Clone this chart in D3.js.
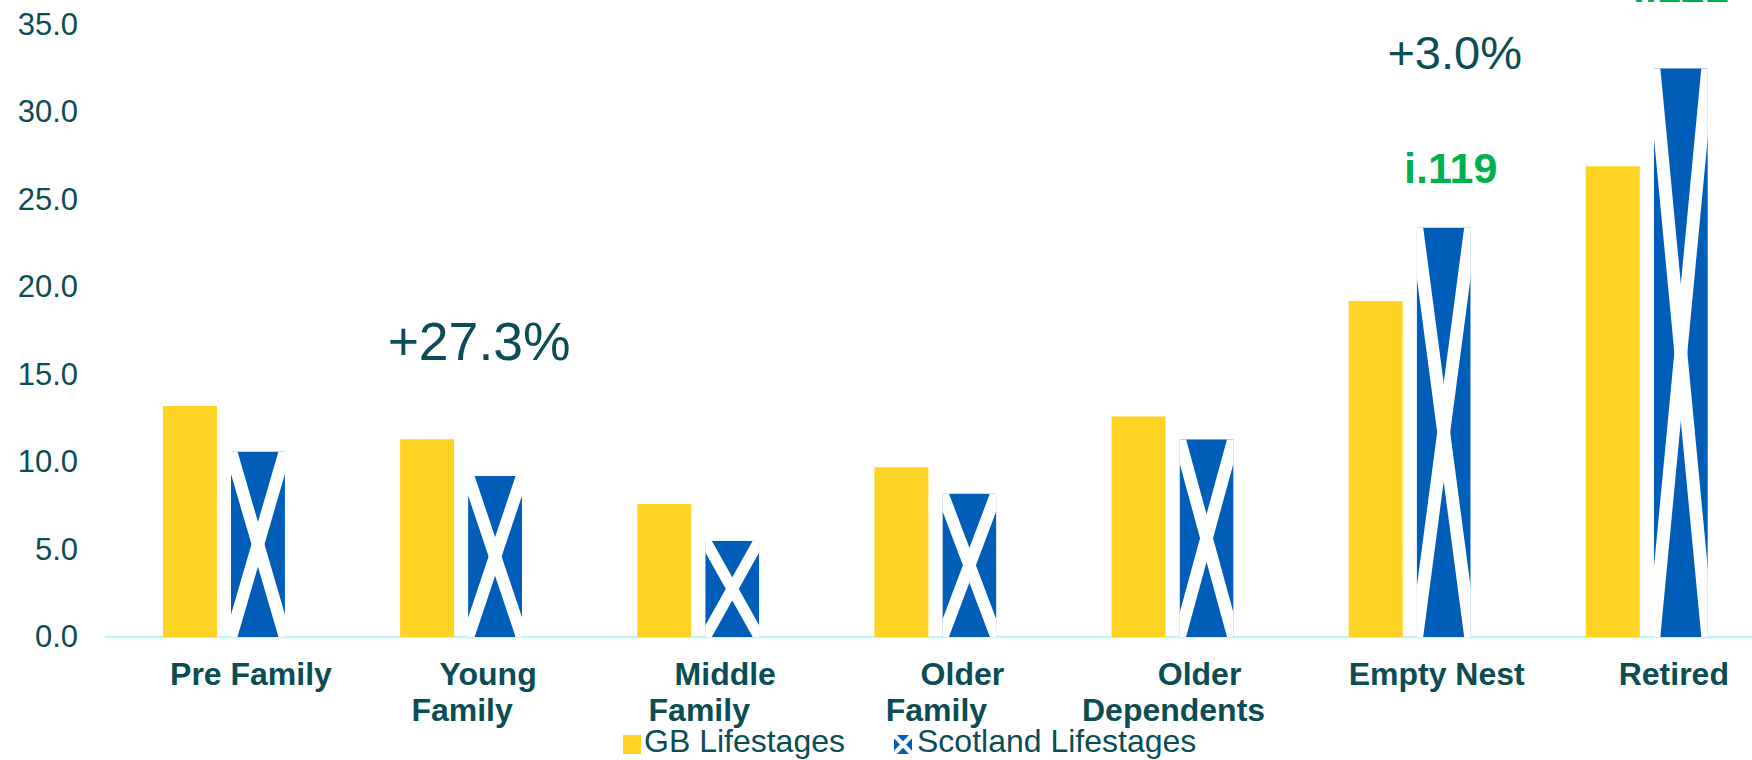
<!DOCTYPE html>
<html>
<head>
<meta charset="utf-8">
<script src="https://cdn.jsdelivr.net/npm/d3@7"></script>
<style>
  body { margin: 0; background: #fff; }
  text { font-family: Arial, "Liberation Sans", sans-serif; }
</style>
</head>
<body>
<div id="chart"></div>
<script>
// lifestage categories, label lines for the x axis
var categories = ["Pre Family", "Young Family", "Middle Family", "Older Family", "Older Dependents", "Empty Nest", "Retired"];
var categoryLines = [["Pre Family"], ["Young", "Family"], ["Middle", "Family"], ["Older", "Family"], ["Older", "Dependents"], ["Empty Nest"], ["Retired"]];
var seriesNames = ["GB Lifestages", "Scotland Lifestages"];
var gbValues = [13.2, 11.3, 7.6, 9.7, 12.6, 19.2, 26.9];
var scotlandValues = [10.6, 9.2, 5.5, 8.2, 11.3, 23.4, 32.5];
var yTicks = [0, 5, 10, 15, 20, 25, 30, 35];
var changeNotes = [{cat: "Young Family", text: "+27.3%"}, {cat: "Empty Nest", text: "+3.0%"}];
var indexNotes = [{cat: "Empty Nest", text: "i.119"}, {cat: "Retired", text: "i.121"}];

var W = 1752, H = 760;
var teal = "#0b4d54", yellow = "#ffd324", blue = "#005eb8", green = "#00b050";

var svg = d3.select("#chart").append("svg").attr("width", W).attr("height", H);
var defs = svg.append("defs");

var x = d3.scaleBand().domain(categories).range([105.4, 1765.4]).paddingInner(0).paddingOuter(0);
var x1 = d3.scaleBand().domain(seriesNames)
    .range([x.bandwidth() / 2 - 61, x.bandwidth() / 2 + 61]).paddingInner(0.206);
var y = d3.scaleLinear().domain([0, 35]).range([637, 24.5]);

// y axis labels only
var yAxis = svg.append("g").attr("transform", "translate(78,0)")
    .call(d3.axisLeft(y).tickValues(yTicks).tickSize(0).tickPadding(0).tickFormat(d3.format(".1f")));
yAxis.select(".domain").remove();
yAxis.selectAll("text").attr("fill", teal).style("font-size", "31px")
    .style("font-family", "Arial, 'Liberation Sans', sans-serif");

// baseline
svg.append("line").attr("x1", 105).attr("x2", W).attr("y1", y(0)).attr("y2", y(0))
    .attr("stroke", "#c4f4f8").attr("stroke-width", 2.5);

// GB bars
svg.append("g").selectAll("rect").data(gbValues).join("rect")
    .attr("x", function(d, i) { return x(categories[i]) + x1(seriesNames[0]); })
    .attr("y", function(d) { return y(d); })
    .attr("width", x1.bandwidth())
    .attr("height", function(d) { return y(0) - y(d); })
    .attr("fill", yellow);

// saltire drawing: blue box with white diagonals, clipped to the box
function saltire(g, x0, y0, w, h, half, id) {
    defs.append("clipPath").attr("id", id).append("rect")
        .attr("x", x0).attr("y", y0).attr("width", w).attr("height", h);
    var s = g.append("g").attr("clip-path", "url(#" + id + ")");
    s.append("rect").attr("x", x0).attr("y", y0).attr("width", w).attr("height", h).attr("fill", blue);
    var x1p = x0 + w, y1p = y0 + h;
    s.append("polygon").attr("fill", "#fff")
        .attr("points", [[x0 - half, y0], [x0 + half, y0], [x1p + half, y1p], [x1p - half, y1p]].join(" "));
    s.append("polygon").attr("fill", "#fff")
        .attr("points", [[x1p - half, y0], [x1p + half, y0], [x0 + half, y1p], [x0 - half, y1p]].join(" "));
}

var scotG = svg.append("g");
scotlandValues.forEach(function(d, i) {
    saltire(scotG, x(categories[i]) + x1(seriesNames[1]), y(d), x1.bandwidth(), y(0) - y(d), 6.5, "clip" + i);
});

// x axis labels
var labels = svg.append("g");
categoryLines.forEach(function(lines, i) {
    var cx = x(categories[i]) + x.bandwidth() / 2;
    lines.forEach(function(line, j) {
        labels.append("text")
            .attr("x", cx + (j === 0 ? 27 : 1))
            .attr("y", 685 + j * 36)
            .attr("text-anchor", "middle")
            .attr("fill", teal)
            .style("font-size", "32px")
            .style("font-weight", "bold")
            .text(line);
    });
});

// change annotations
svg.append("text").attr("x", x(changeNotes[0].cat) + x.bandwidth() / 2 + 18).attr("y", 360)
    .attr("text-anchor", "middle").attr("fill", teal).style("font-size", "53.5px").text(changeNotes[0].text);
svg.append("text").attr("x", x(changeNotes[1].cat) + x.bandwidth() / 2 + 45).attr("y", 69)
    .attr("text-anchor", "middle").attr("fill", teal).style("font-size", "47px").text(changeNotes[1].text);

// index annotations above the Scotland bars
indexNotes.forEach(function(n, i) {
    var bx = x(n.cat) + x1(seriesNames[1]) + x1.bandwidth() / 2;
    svg.append("text").attr("x", bx + (i === 0 ? 7 : 0)).attr("y", i === 0 ? 183 : 2)
        .attr("text-anchor", "middle").attr("fill", green)
        .style("font-size", "43px").style("font-weight", "bold").text(n.text);
});

// legend
var legend = svg.append("g");
legend.append("rect").attr("x", 623).attr("y", 735).attr("width", 18).attr("height", 19).attr("fill", yellow);
legend.append("text").attr("x", 644).attr("y", 752).attr("fill", teal).style("font-size", "32px").text(seriesNames[0]);
saltire(legend, 894, 735, 18, 19, 3, "clipLegend");
legend.append("text").attr("x", 917).attr("y", 752).attr("fill", teal).style("font-size", "32px").text(seriesNames[1]);
</script>
</body>
</html>
